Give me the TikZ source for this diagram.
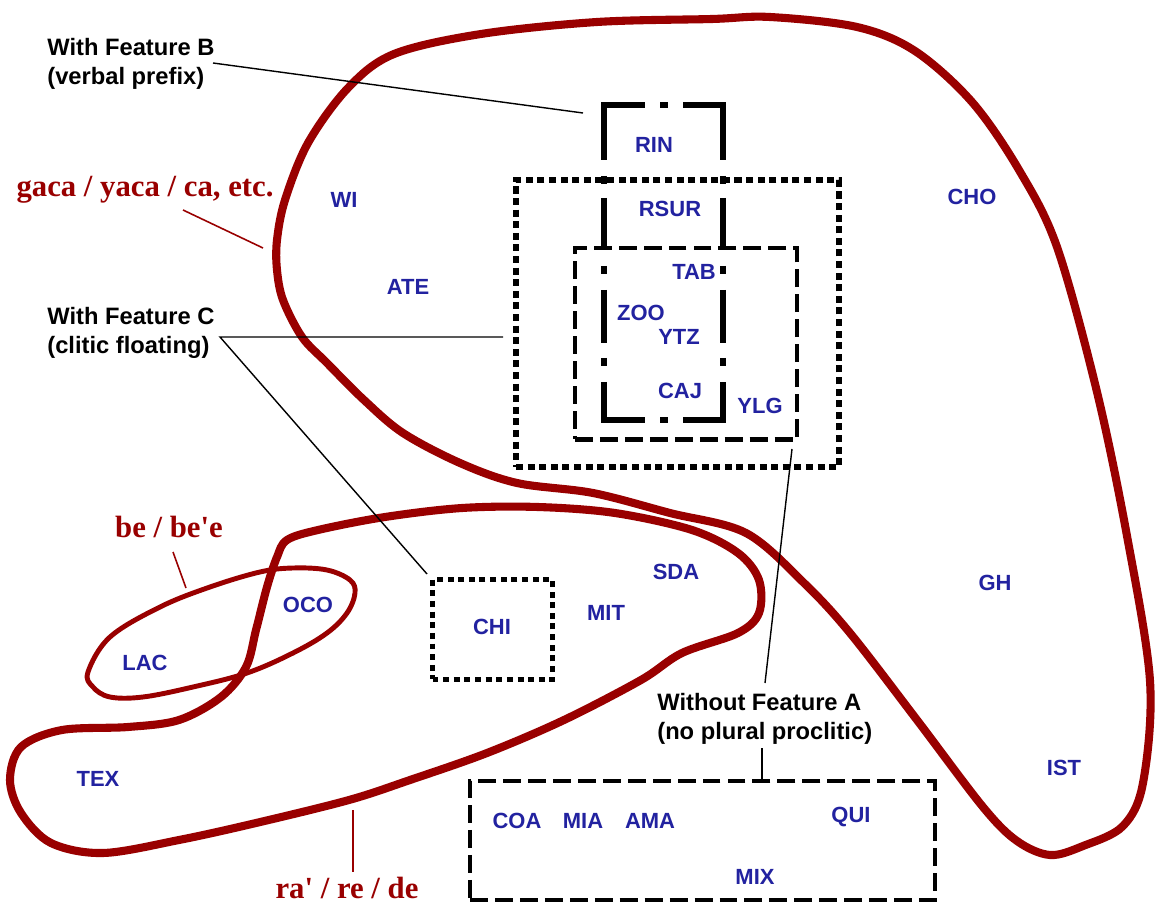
\documentclass[tikz,border=0pt]{standalone}
\usepackage{fontspec}
\setmainfont{Liberation Sans}
\newfontfamily\redfont[Ligatures=TeXOff]{Liberation Serif}
\definecolor{isored}{RGB}{153,0,0}
\definecolor{langblue}{RGB}{34,34,160}
\begin{document}
\begin{tikzpicture}[x=0.02cm,y=-0.02cm,
  lang/.style={text=langblue, font=\bfseries\fontsize{12.5}{14}\selectfont, inner sep=0pt},
  feat/.style={text=black, font=\bfseries\fontsize{13.5}{16.4}\selectfont, inner sep=0pt, align=left, anchor=north west},
  marker/.style={text=isored, font=\redfont\bfseries\fontsize{17.5}{20}\selectfont, inner sep=0pt, anchor=base},
  isogloss/.style={draw=isored, line width=4.6pt, line join=round},
  isothin/.style={draw=isored, line width=2.8pt, line join=round},
  redleader/.style={draw=isored, line width=0.9pt},
  leader/.style={draw=black, line width=0.8pt},
  dashbox/.style={draw=black, line width=2.3pt, dash pattern=on 10.2pt off 4pt, inner sep=0pt},
  dotbox/.style={draw=black, line width=3.7pt, dash pattern=on 4pt off 2.6pt, inner sep=0pt},
  smalldotbox/.style={draw=black, line width=2.5pt, dash pattern=on 3.4pt off 2.65pt, inner sep=0pt},
  bseg/.style={draw=black, line width=3.97pt, line join=miter, line cap=butt},
]
\useasboundingbox[fill=white] (0,0) rectangle (1156,905);

% ---------------- isoglosses (red curves) ----------------
\draw[isogloss] plot[smooth cycle, tension=0.55] coordinates {
  (277,240) (285,200) (308,143) (348,88) (394,54) (481,34) (597,22) (712,19)
  (770,17) (857,27) (915,51) (972,102) (1019,170) (1057,247) (1097,392)
  (1127,536) (1150,681) (1143,783) (1123,826) (1083,846) (1050,855) (1017,841)
  (983,807) (917,720) (850,633) (804,583) (746,533) (670,513) (593,493)
  (517,483) (460,463) (403,433) (364,400) (327,363) (302,337) (283,300) (277,270)};

\draw[isogloss] plot[smooth cycle, tension=0.55] coordinates {
  (287,540) (318,530) (385,517) (462,508) (538,507) (615,513) (692,530)
  (738,553) (759,580) (759,613) (738,633) (682,653) (641,680) (564,720)
  (487,753) (410,780) (349,800) (256,823) (179,840) (103,853) (51,843)
  (21,813) (10,780) (21,747) (62,730) (128,727) (179,720) (221,697)
  (246,667) (256,630) (267,587) (277,557)};

\draw[isothin] plot[smooth cycle, tension=0.6] coordinates {
  (88,672) (110,637) (160,607) (210,587) (260,572) (293,568) (327,570)
  (350,580) (355,593) (347,613) (327,633) (293,653) (247,673) (193,687)
  (143,697) (110,697) (93,687)};

% ---------------- feature boxes ----------------
\node[dotbox, minimum width=6.46cm, minimum height=5.74cm] (boxC) at (677.5,323.5) {};
\node[dashbox, minimum width=4.44cm, minimum height=3.83cm] (boxA) at (686,343.75) {};
\node[dashbox, minimum width=9.3cm, minimum height=2.38cm] (boxAlow) at (702.5,840.5) {};
\node[smalldotbox, minimum width=2.4cm, minimum height=2.0cm] (boxCHI) at (492.5,629.5) {};

% Feature B box (thick dash-dot)
\draw[bseg] (604,160) -- (604,105) -- (645,105);
\draw[bseg] (660,105) -- (668,105);
\draw[bseg] (683,105) -- (723,105) -- (723,160);
\draw[bseg] (604,382) -- (604,420) -- (645,420);
\draw[bseg] (660,420) -- (668,420);
\draw[bseg] (683,420) -- (723,420) -- (723,382);
\foreach \xx in {604,723} {
  \draw[bseg] (\xx,176) -- (\xx,184);
  \draw[bseg] (\xx,198) -- (\xx,249);
  \draw[bseg] (\xx,266) -- (\xx,274);
  \draw[bseg] (\xx,290) -- (\xx,343);
  \draw[bseg] (\xx,358) -- (\xx,366);
}

% ---------------- labels ----------------
\node[feat] (featB) at (47,38) {With Feature B\\(verbal prefix)};
\node[feat] (featC) at (47,307) {With Feature C\\(clitic floating)};
\node[feat] (featA) at (657,693) {Without Feature A\\(no plural proclitic)};

\node[marker] (mGaca) at (145,197) {gaca / yaca / ca, etc.};
\node[marker] (mBe) at (169,537) {be / be'e};
\node[marker] (mRa) at (347,898) {ra' / re / de};

\node[lang] (RIN) at (654,145) {RIN};
\node[lang] (RSUR) at (670,209) {RSUR};
\node[lang] (TAB) at (694,272) {TAB};
\node[lang] (ZOO) at (641,313) {ZOO};
\node[lang] (YTZ) at (679,337) {YTZ};
\node[lang] (CAJ) at (680,391) {CAJ};
\node[lang] (YLG) at (760,406) {YLG};
\node[lang] (WI) at (344,200) {WI};
\node[lang] (CHO) at (972,197) {CHO};
\node[lang] (ATE) at (408,287) {ATE};
\node[lang] (SDA) at (676,572) {SDA};
\node[lang] (MIT) at (606,613) {MIT};
\node[lang] (CHI) at (492,627) {CHI};
\node[lang] (OCO) at (308,605) {OCO};
\node[lang] (LAC) at (145,663) {LAC};
\node[lang] (GH) at (995,583) {GH};
\node[lang] (IST) at (1064,768) {IST};
\node[lang] (TEX) at (98,779) {TEX};
\node[lang] (COA) at (517,821) {COA};
\node[lang] (MIA) at (583,821) {MIA};
\node[lang] (AMA) at (650,821) {AMA};
\node[lang] (QUI) at (851,817) {QUI};
\node[lang] (MIX) at (755,877) {MIX};

% ---------------- leader lines ----------------
\coordinate (bS) at (213,63);   \coordinate (bE) at (583,113);
\coordinate (cS) at (220,337);  \coordinate (cE1) at (503,337);  \coordinate (cE2) at (427,574);
\coordinate (aS) at (792,449);  \coordinate (aE) at (765,683);
\coordinate (aT) at (762,748);  \coordinate (aB) at (762,781);
\coordinate (gS) at (183,210);  \coordinate (gE) at (263,248);
\coordinate (beS) at (173,552); \coordinate (beE) at (186,588);
\coordinate (raS) at (353,810); \coordinate (raE) at (353,872);

\draw[leader] (bS) -- (bE);
\draw[leader] (cE1) -- (cS) -- (cE2);
\draw[leader] (aS) -- (aE);
\draw[leader] (aT) -- (aB);
\draw[redleader] (gS) -- (gE);
\draw[redleader] (beS) -- (beE);
\draw[redleader] (raS) -- (raE);
\end{tikzpicture}
\end{document}
